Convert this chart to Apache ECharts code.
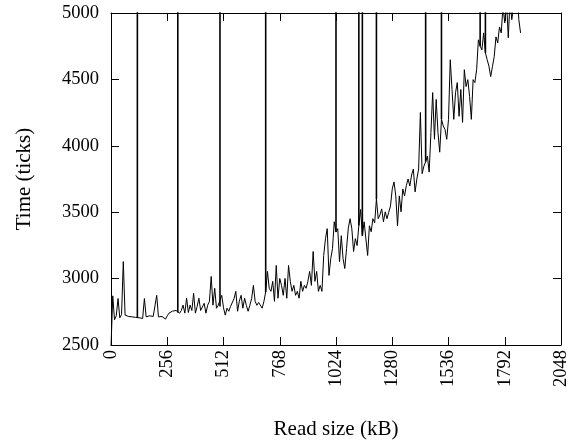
<!DOCTYPE html>
<html>
<head>
<meta charset="utf-8">
<script src="https://cdn.jsdelivr.net/npm/echarts@6/dist/echarts.min.js"></script>
<style>html,body{margin:0;padding:0;background:#fff}#c{width:577px;height:445px}</style>
</head>
<body>
<div id="c"></div>
<script>
// Regular samples: read size every 8 kB, starting at 0
var readStep = 8;
// Time in ticks for the regular samples
var times = [
2480,2870,2690,2720,2850,2705,2730,3128,2725,2710,
2715,2705,2712,2700,2708,2705,2705,2710,2700,2850,
2712,2705,2720,2708,2715,2720,2874,2712,2705,2715,
2700,2695,2720,2740,2730,2755,2740,2760,2745,2740,
2760,2800,2740,2852,2745,2800,2760,2889,2740,2790,
2852,2760,2754,2814,2740,2800,2829,3016,2800,2927,
2777,2800,2790,2874,2780,2725,2777,2754,2790,2777,
2850,2904,2754,2830,2874,2777,2852,2799,2754,2799,
2850,2949,2829,2799,2820,2829,2777,2829,2900,3054,
2927,2904,2979,2829,3099,2852,3001,2949,2874,3001,
2852,3099,2979,2904,2949,2874,2904,2852,2979,2904,
2949,2927,2979,3054,2949,3204,2979,3054,2904,2949,
2904,3174,3300,3376,3024,3150,3226,3428,3350,3376,
3128,3323,3151,3076,3226,3380,3451,3376,3204,3301,
3249,3400,3520,3323,3428,3300,3174,3398,3353,3451,
3420,3600,3451,3480,3525,3428,3503,3451,3500,3548,
3675,3728,3623,3398,3623,3503,3675,3623,3700,3750,
3698,3780,3825,3653,3750,3825,4251,3790,3847,3880,
3922,3802,4100,4401,4049,4349,4102,3952,4199,4150,
4124,4049,4199,4648,4424,4199,4401,4476,4222,4424,
4176,4573,4446,4498,4371,4199,4498,4476,4573,4798,
4750,4723,4850,4700,4648,4600,4521,4596,4671,4820,
4775,4895,4850,5050,4925,5100,4813,5100,4950,5050,
5100,5200,4950,4850
];
// Read sizes with an outlier time far above the plotted range
var spikeSizes = [120,304,496,704,1024,1128,1144,1208,1432,1504,1680,1704];
var spikeTop = 30000;
var xTicks = [0,256,512,768,1024,1280,1536,1792,2048];
var yTicks = [2500,3000,3500,4000,4500,5000];

var pts = times.map(function(v,i){return [i*readStep, v];});

var font = "'Liberation Serif', 'Times New Roman', serif";
var chart = echarts.init(document.getElementById('c'), null, {renderer:'canvas'});
var axisCommon = {
  axisLine:{show:true,onZero:false,lineStyle:{color:'#000',width:1}},
  axisTick:{show:true,inside:true,length:8,lineStyle:{color:'#000',width:1}},
  splitLine:{show:false}
};
function plain(v){return String(v);}
var series = [{
  type:'line',data:pts,xAxisIndex:0,yAxisIndex:0,showSymbol:false,symbol:'none',clip:true,
  lineStyle:{color:'#000',width:1},silent:true,z:3
}];
spikeSizes.forEach(function(s){
  var base = times[Math.round(s/readStep)];
  series.push({type:'line',data:[[s,base],[s,spikeTop]],showSymbol:false,symbol:'none',clip:true,
    lineStyle:{color:'#000',width:1.6},silent:true,z:2});
});
chart.setOption({
  animation:false,
  backgroundColor:'#fff',
  grid:{left:111,right:16,top:13,bottom:98,containLabel:false},
  xAxis:[
    Object.assign({type:'value',position:'bottom',min:xTicks[0],max:xTicks[xTicks.length-1],interval:256,
      name:'Read size (kB)',nameLocation:'middle',nameGap:74,
      nameTextStyle:{fontFamily:font,fontSize:21,color:'#000'},
      axisLabel:{rotate:90,fontFamily:font,fontSize:18.5,color:'#000',margin:5,formatter:plain}},axisCommon),
    Object.assign({type:'value',position:'top',min:0,max:2048,interval:256,axisLabel:{show:false}},axisCommon)
  ],
  yAxis:[
    Object.assign({type:'value',position:'left',min:yTicks[0],max:yTicks[yTicks.length-1],interval:500,
      name:'Time (ticks)',nameLocation:'middle',nameGap:76,nameRotate:90,
      nameTextStyle:{fontFamily:font,fontSize:21,color:'#000'},
      axisLabel:{fontFamily:font,fontSize:18.5,color:'#000',margin:12,formatter:plain}},axisCommon),
    Object.assign({type:'value',position:'right',min:2500,max:5000,interval:500,axisLabel:{show:false}},axisCommon)
  ],
  series:series
});
</script>
</body>
</html>
